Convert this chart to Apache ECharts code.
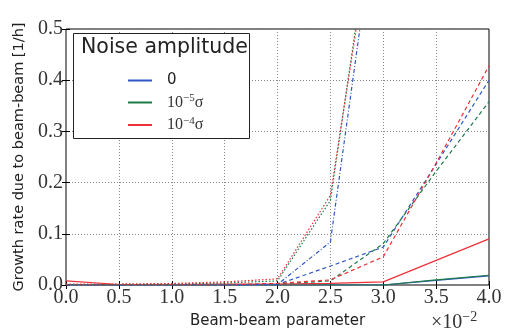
<!DOCTYPE html>
<html>
<head>
<meta charset="utf-8">
<script src="https://cdn.jsdelivr.net/npm/echarts@6/dist/echarts.min.js"></script>
<style>
  html, body { margin: 0; padding: 0; background: #fff; }
  #chart { width: 507px; height: 334px; }
</style>
</head>
<body>
<div id="chart"></div>
<script>
// beam-beam parameter (x 10^-2)
const xVals = [0, 0.5, 1.0, 1.5, 2.0, 2.5, 3.0, 3.5, 4.0];
const xTicks = ['0.0', '0.5', '1.0', '1.5', '2.0', '2.5', '3.0', '3.5', '4.0'];
const yTicks = ['0.0', '0.1', '0.2', '0.3', '0.4', '0.5'];

// solid group
const blueSolid  = [0, 0, 0, 0, 0, 0, 0, 0.009, 0.018];
const greenSolid = [0, 0, 0, 0, 0, 0, 0, 0.010, 0.019];
const redSolid   = [0.008, 0.001, 0.001, 0.002, 0.002, 0.003, 0.006, 0.048, 0.090];

// dashed group
const blueDashed  = [0, 0, 0, 0, 0.001, 0.037, 0.074, 0.236, 0.400];
const greenDashed = [0, 0, 0, 0, 0.002, 0.008, 0.081, 0.222, 0.358];
const redDashed   = [0, 0, 0, 0, 0.003, 0.010, 0.055, 0.238, 0.428];

// dotted / dash-dot group (leaves the plot after 2.5)
const blueDotted  = [0, 0, 0, 0, 0.001, 0.084, 0.83];
const greenDotted = [0.001, 0.001, 0.002, 0.004, 0.008, 0.165, 0.87];
const redDotted   = [0.002, 0.002, 0.003, 0.006, 0.012, 0.175, 0.84];

const legendNames = ['0', '1e-5', '1e-4'];

const BLUE = '#2f58c4';
const GREEN = '#1d7a48';
const RED = '#ee3038';

const pairs = arr => arr.map((v, i) => [xVals[i], v]);

const mkLine = (name, data, color, type) => ({
  name: name,
  type: 'line',
  data: pairs(data),
  symbol: 'none',
  clip: true,
  lineStyle: { color: color, width: 1.2, type: type },
  itemStyle: { color: color },
  z: 3
});

const chart = echarts.init(document.getElementById('chart'));

const serif = 'Liberation Serif';
const sans = 'DejaVu Sans';

const option = {
  animation: false,
  backgroundColor: '#fff',
  grid: {
    left: 66, right: 18, top: 29, bottom: 43,
    show: true, borderColor: '#000', borderWidth: 1
  },
  xAxis: [
    {
      type: 'value', min: 0, max: 4, interval: 0.5,
      name: 'Beam-beam parameter',
      nameLocation: 'middle', nameGap: 29,
      nameTextStyle: { fontFamily: sans, fontSize: 15, color: '#222' },
      axisLine: { show: false },
      axisTick: { show: true, inside: true, length: 4, lineStyle: { color: '#000' } },
      axisLabel: {
        margin: 3, fontFamily: serif, fontSize: 20, color: '#333',
        formatter: v => xTicks[Math.round(v / 0.5)]
      },
      splitLine: { show: true, lineStyle: { color: '#888', type: [1, 2], width: 1 } }
    },
    {
      type: 'value', min: 0, max: 4, interval: 0.5, position: 'top',
      axisLine: { show: false },
      axisTick: { show: true, inside: true, length: 4, lineStyle: { color: '#000' } },
      axisLabel: { show: false },
      splitLine: { show: false }
    }
  ],
  yAxis: [
    {
      type: 'value', min: 0, max: 0.5, interval: 0.1,
      name: 'Growth rate due to beam-beam [1/h]',
      nameLocation: 'middle', nameGap: 38,
      nameTextStyle: { fontFamily: sans, fontSize: 14.5, color: '#222' },
      axisLine: { show: false },
      axisTick: { show: true, inside: true, length: 4, lineStyle: { color: '#000' } },
      axisLabel: {
        margin: 3, fontFamily: serif, fontSize: 20, color: '#333',
        formatter: v => yTicks[Math.round(v * 10)]
      },
      splitLine: { show: true, lineStyle: { color: '#888', type: [1, 2], width: 1 } }
    },
    {
      type: 'value', min: 0, max: 0.5, interval: 0.1, position: 'right',
      axisLine: { show: false },
      axisTick: { show: true, inside: true, length: 4, lineStyle: { color: '#000' } },
      axisLabel: { show: false },
      splitLine: { show: false }
    }
  ],
  legend: {
    data: legendNames,
    orient: 'vertical',
    left: 123, top: 68,
    itemWidth: 24, itemHeight: 2, itemGap: 5,
    icon: 'rect',
    z: 20,
    textStyle: {
      fontFamily: serif, fontSize: 16, color: '#222', padding: [0, 0, 0, 10],
      rich: {
        b: { fontFamily: serif, fontSize: 16, color: '#333' },
        s: { fontFamily: serif, fontSize: 11, color: '#333', verticalAlign: 'bottom', padding: [0, 0, 8, 0] },
        z: { fontFamily: sans, fontSize: 15, color: '#222' }
      }
    },
    formatter: name => {
      if (name === '0') return '{z|0}';
      const e = name === '1e-5' ? '\u22125' : '\u22124';
      return '{b|10}{s|' + e + '}{b|\u03c3}';
    }
  },
  graphic: [
    {
      type: 'rect', z: 10,
      shape: { x: 73.5, y: 33.5, width: 176, height: 105 },
      style: { fill: '#fff', stroke: '#222', lineWidth: 1 }
    },
    {
      type: 'text', z: 11, left: 81, top: 37,
      style: { text: 'Noise amplitude', font: '20.5px "DejaVu Sans"', fill: '#222' }
    },
    {
      type: 'text', left: 431, top: 310,
      style: {
        text: '{a|\u00d710}{b|\u22122}',
        rich: {
          a: { fontFamily: serif, fontSize: 20, fill: '#333' },
          b: { fontFamily: serif, fontSize: 14, fill: '#333', verticalAlign: 'bottom', padding: [0, 0, 12, 0] }
        }
      }
    }
  ],
  series: [
    mkLine('0', blueSolid, BLUE, 'solid'),
    mkLine('1e-5', greenSolid, GREEN, 'solid'),
    mkLine('1e-4', redSolid, RED, 'solid'),
    mkLine('blue-dashed', blueDashed, BLUE, [4, 3]),
    mkLine('green-dashed', greenDashed, GREEN, [4, 3]),
    mkLine('red-dashed', redDashed, RED, [4, 3]),
    mkLine('blue-dotted', blueDotted, BLUE, [4, 2, 1, 2]),
    mkLine('green-dotted', greenDotted, GREEN, [1.5, 2]),
    mkLine('red-dotted', redDotted, RED, [1.5, 2])
  ]
};

chart.setOption(option);
</script>
</body>
</html>
